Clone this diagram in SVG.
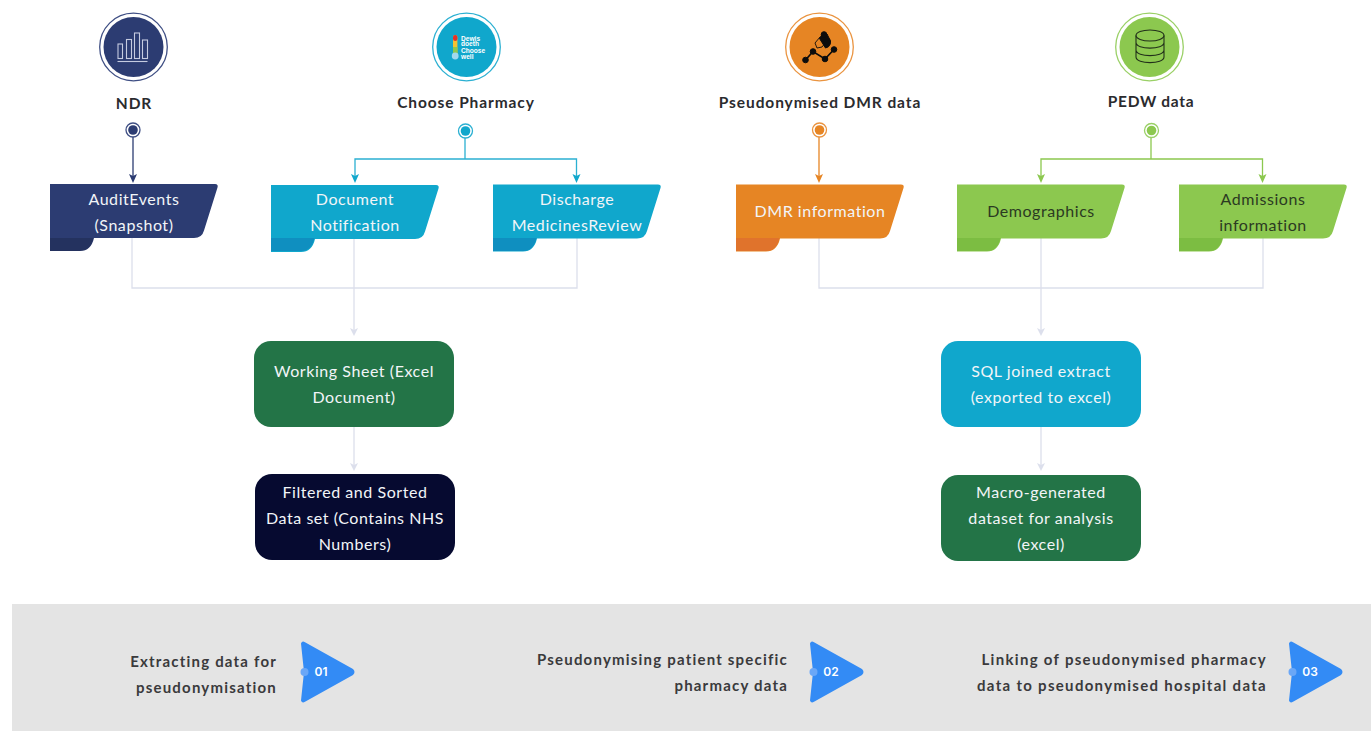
<svg xmlns="http://www.w3.org/2000/svg" width="1371" height="731" viewBox="0 0 1371 731">
<style>
text{font-family:Lato,"Open Sans","Liberation Sans",sans-serif;text-anchor:middle}
.h{font-size:15.5px;font-weight:700;fill:#2b2b2e;letter-spacing:.9px}
.b{font-size:16px;fill:#f2f5f8;letter-spacing:.56px}
.s{font-size:15px;font-weight:700;fill:#3a3a3c;letter-spacing:1.2px;text-anchor:end}
.s3{letter-spacing:1.3px}
.n{font-size:12px;font-weight:600;fill:#fff;font-family:Inter,"Liberation Sans",sans-serif}
.logo{font-size:6.6px;font-weight:700;fill:#fff;font-family:"Liberation Sans",sans-serif;text-anchor:start}
.c{fill:none;stroke-width:1.3}
.g{stroke:#dcdfec}
.ring{fill:#fff;stroke-width:1.3}
.navy{stroke:#3f4f84}.cyan{stroke:#2bb0d2}.org{stroke:#ea9440}.grn{stroke:#9ad066}
.shade{fill:#000;opacity:.16}
</style>
<defs>
<path id="ban" d="M0 0H165Q168.500 0 167.500 3.500L154 46.500Q152 54 144 54H44Q41 67 30 67H0Z"/>
<path id="tri" d="M0-28.500Q1-31.500 4-29.800L52-3Q55 0 52 3L4 29.800Q1 31.500 0 28.500L3 0Z"/>
</defs>
<rect x="12" y="604" width="1359" height="127" fill="#e4e4e4"/>
<g id="connectors" class="c">
<path class="c g" d="M132 238V288H577V238M354 238V331M819 238V288H1263V238M1041 238V331M354 427V466M1041 427V466"/>
<path d="M350 328L354 336L358 328L354 330Z M1037 328L1041 336L1045 328L1041 330Z M350 463L354 471L358 463L354 465Z M1037 463L1041 471L1045 463L1041 465Z" fill="#dcdfec"/>
<path class="c" stroke="#2c3c72" d="M133 137V178"/><path d="M129 174L133 183L137 174L133 176Z" fill="#2c3c72"/>
<path class="c" stroke="#2bb0d2" d="M465 138V159H355V178M465 159H576.500V178"/><path d="M351 174L355 183L359 174L355 176ZM572.500 174L576.500 183L580.500 174L576.500 176Z" fill="#10a7cc"/>
<path class="c" stroke="#e68524" d="M819 137V178"/><path d="M815 174L819 183L823 174L819 176Z" fill="#e68524"/>
<path class="c" stroke="#8cc84f" d="M1151 138V159H1041V178M1151 159H1262.500V178"/><path d="M1037 174L1041 183L1045 174L1041 176ZM1258.500 174L1262.500 183L1266.500 174L1262.500 176Z" fill="#8cc84f"/>
</g>
<g id="src-ndr">
<circle class="ring navy" cx="133.500" cy="47" r="33.800"/><circle cx="133.500" cy="47" r="30" fill="#2c3c72"/>
<g fill="none" stroke="#c5cbe0" stroke-width="1.100"><rect x="118" y="44" width="4.500" height="14.500"/><rect x="126.500" y="39.500" width="5" height="19"/><rect x="134.500" y="33" width="5" height="25.500"/><rect x="142.500" y="40" width="5" height="18.500"/><path d="M117.500 61.500H147.500"/></g>
<text class="h" x="134" y="109">NDR</text>
<circle class="ring navy" cx="133" cy="130" r="7"/><circle cx="133" cy="130" r="4.800" fill="#2c3c72"/>
</g>
<g id="src-choose">
<circle class="ring cyan" cx="466.500" cy="47" r="33.800"/><circle cx="466.500" cy="47" r="30" fill="#10a7cc"/>
<rect x="453" y="35" width="4.400" height="21" rx="2.200" fill="#f2c230"/><rect x="453" y="35" width="4.400" height="6" rx="2.200" fill="#e2302c"/><rect x="453" y="47" width="4.400" height="7" fill="#8cc84f"/><circle cx="455.200" cy="56" r="3.400" fill="#9fd8ee"/>
<text class="logo" x="461" y="40.500">Dewis</text><text class="logo" x="461" y="46">doeth</text><text class="logo" x="461" y="53">Choose</text><text class="logo" x="461" y="58.500">well</text>
<text class="h" x="466" y="107.500">Choose Pharmacy</text>
<circle class="ring cyan" cx="465.500" cy="131" r="7"/><circle cx="465.500" cy="131" r="4.800" fill="#10a7cc"/>
</g>
<g id="src-dmr">
<circle class="ring org" cx="819.500" cy="47" r="33.800"/><circle cx="819.500" cy="47" r="30" fill="#e68524"/>
<g fill="#0c0c0c" stroke="#0c0c0c"><path d="M805.500 60L813 51.500L825 59L834 49.500" fill="none" stroke-width="1.700"/><circle cx="805.500" cy="60" r="2.800"/><circle cx="813" cy="51.500" r="2.800"/><circle cx="825" cy="59" r="2.800"/><circle cx="834" cy="49.500" r="2.800"/><path d="M822 34.500L819.500 38.500L825.500 48A6 6 0 0 0 829 38L827 34Z" stroke-width="1"/><path d="M815 43L820 37L826 42L822 47L817 48Z" fill="none" stroke-width=".9"/><circle cx="824" cy="34.500" r="2.800"/></g>
<text class="h" x="820" y="107.500">Pseudonymised DMR data</text>
<circle class="ring org" cx="819.500" cy="130" r="7"/><circle cx="819.500" cy="130" r="4.800" fill="#e68524"/>
</g>
<g id="src-pedw">
<circle class="ring grn" cx="1149.500" cy="47" r="33.800"/><circle cx="1149.500" cy="47" r="30" fill="#8cc84f"/>
<g fill="none" stroke="#22301a" stroke-width="1.100"><ellipse cx="1150" cy="35.500" rx="14" ry="5.500"/><path d="M1136 35.500V57C1136 64.500 1164 64.500 1164 57V35.500M1136 42.500C1136 50 1164 50 1164 42.500M1136 50C1136 57.500 1164 57.500 1164 50"/></g>
<text class="h" x="1151" y="107" style="letter-spacing:.7px">PEDW data</text>
<circle class="ring grn" cx="1151.500" cy="130.500" r="7"/><circle cx="1151.500" cy="130.500" r="4.800" fill="#8cc84f"/>
</g>
<g id="audit-events"><use href="#ban" x="50" y="184" fill="#2c3c72"/><path class="shade" d="M50 238H93.500Q90.500 251 80 251H50Z"/><text class="b" x="134" y="205">AuditEvents</text><text class="b" x="134" y="231">(Snapshot)</text></g>
<g id="document-notification"><use href="#ban" x="271" y="185" fill="#10a7cc"/><path style="fill:#0f8fc0" d="M271 238H314.500Q311.500 251 301 251H271Z"/><text class="b" x="355" y="205">Document</text><text class="b" x="355" y="231">Notification</text></g>
<g id="discharge-review"><use href="#ban" x="493" y="184.500" fill="#10a7cc"/><path style="fill:#0f8fc0" d="M493 238H536.500Q533.500 251 523 251H493Z"/><text class="b" x="577" y="205">Discharge</text><text class="b" x="577" y="231">MedicinesReview</text></g>
<g id="dmr-information"><use href="#ban" x="736" y="184.500" fill="#e68524"/><path style="fill:#e0732c" d="M736 238H779.500Q776.500 251 766 251H736Z"/><text class="b" x="820" y="217">DMR information</text></g>
<g id="demographics"><use href="#ban" x="957" y="184.500" fill="#8cc84f"/><path style="fill:#7cbd42" d="M957 238H1000.500Q997.500 251 987 251H957Z"/><text class="b" x="1041" y="217" style="fill:#2b3a22">Demographics</text></g>
<g id="admissions"><use href="#ban" x="1179" y="184.500" fill="#8cc84f"/><path style="fill:#7cbd42" d="M1179 238H1222.500Q1219.500 251 1209 251H1179Z"/><text class="b" x="1263" y="205" style="fill:#2b3a22">Admissions</text><text class="b" x="1263" y="231" style="fill:#2b3a22">information</text></g>
<g id="working-sheet"><rect x="254" y="341" width="200" height="86" rx="17" fill="#237447"/><text class="b" x="354" y="377">Working Sheet (Excel</text><text class="b" x="354" y="403">Document)</text></g>
<g id="filtered-sorted"><rect x="255" y="474" width="200" height="86" rx="17" fill="#060a30"/><text class="b" x="355" y="498">Filtered and Sorted</text><text class="b" x="355" y="524">Data set (Contains NHS</text><text class="b" x="355" y="550">Numbers)</text></g>
<g id="sql-extract"><rect x="941" y="341" width="200" height="86" rx="17" fill="#10a7cc"/><text class="b" x="1041" y="377">SQL joined extract</text><text class="b" x="1041" y="403">(exported to excel)</text></g>
<g id="macro-dataset"><rect x="941" y="475" width="200" height="86" rx="17" fill="#237447"/><text class="b" x="1041" y="498">Macro-generated</text><text class="b" x="1041" y="524">dataset for analysis</text><text class="b" x="1041" y="550">(excel)</text></g>
<g id="step-1"><text class="s" x="277" y="667">Extracting data for</text><text class="s" x="277" y="693">pseudonymisation</text><use href="#tri" x="301" y="672" fill="#338bf5"/><circle cx="304.500" cy="672" r="4" fill="#6aa7f7"/><text class="n" x="321" y="676">01</text></g>
<g id="step-2"><text class="s" x="788" y="665">Pseudonymising patient specific</text><text class="s" x="788" y="691">pharmacy data</text><use href="#tri" x="810" y="672" fill="#338bf5"/><circle cx="813.500" cy="672" r="4" fill="#6aa7f7"/><text class="n" x="831" y="676">02</text></g>
<g id="step-3"><text class="s s3" x="1267" y="665">Linking of pseudonymised pharmacy</text><text class="s s3" x="1267" y="691">data to pseudonymised hospital data</text><use href="#tri" x="1289" y="672" fill="#338bf5"/><circle cx="1292.500" cy="672" r="4" fill="#6aa7f7"/><text class="n" x="1310" y="676">03</text></g>
</svg>
